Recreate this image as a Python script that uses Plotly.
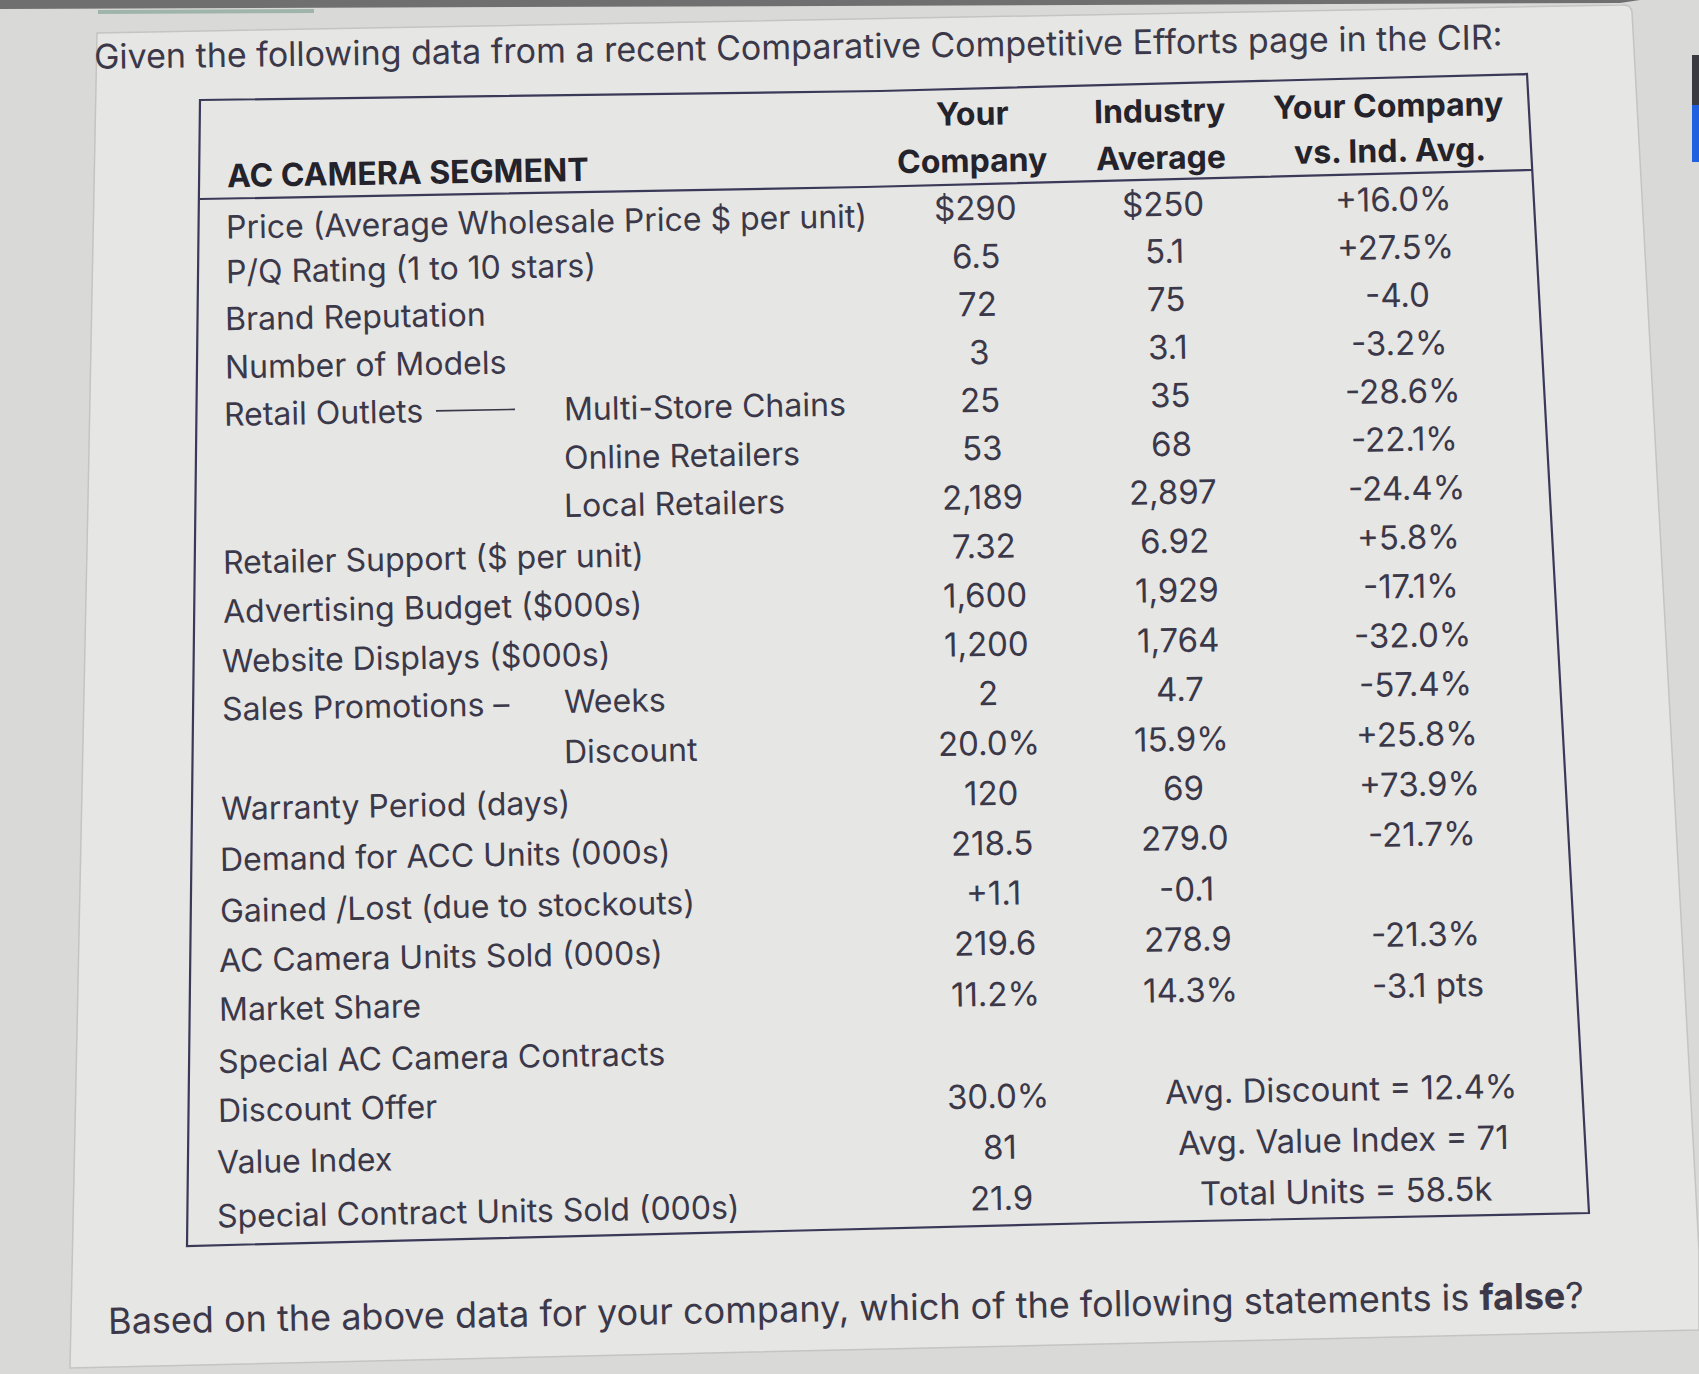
import plotly.graph_objects as go

W, H = 1699, 1374

# ---------------- data ----------------
title_text = "Given the following data from a recent Comparative Competitive Efforts page in the CIR:"
question_text = "Based on the above data for your company, which of the following statements is <b>false</b>?"

segment_header = "AC CAMERA SEGMENT"
col_header_your = ["Your", "Company"]
col_header_industry = ["Industry", "Average"]
col_header_vs = ["Your Company", "vs. Ind. Avg."]

row_labels = [
    "Price (Average Wholesale Price $ per unit)",
    "P/Q Rating (1 to 10 stars)",
    "Brand Reputation",
    "Number of Models",
    "Retail Outlets",
    "",
    "",
    "Retailer Support ($ per unit)",
    "Advertising Budget ($000s)",
    "Website Displays ($000s)",
    "Sales Promotions –",
    "",
    "Warranty Period (days)",
    "Demand for ACC Units (000s)",
    "Gained /Lost (due to stockouts)",
    "AC Camera Units Sold (000s)",
    "Market Share",
    "Special AC Camera Contracts",
    "Discount Offer",
    "Value Index",
    "Special Contract Units Sold (000s)",
]
sub_labels = ["", "", "", "", "Multi-Store Chains", "Online Retailers", "Local Retailers",
              "", "", "", "Weeks", "Discount", "", "", "", "", "", "", "", "", ""]
your_company = ["$290", "6.5", "72", "3", "25", "53", "2,189", "7.32", "1,600", "1,200", "2",
                "20.0%", "120", "218.5", "+1.1", "219.6", "11.2%", "", "30.0%", "81", "21.9"]
industry_avg = ["$250", "5.1", "75", "3.1", "35", "68", "2,897", "6.92", "1,929", "1,764", "4.7",
                "15.9%", "69", "279.0", "-0.1", "278.9", "14.3%", "", "", "", ""]
vs_industry = ["+16.0%", "+27.5%", "-4.0", "-3.2%", "-28.6%", "-22.1%", "-24.4%", "+5.8%", "-17.1%",
               "-32.0%", "-57.4%", "+25.8%", "+73.9%", "-21.7%", "", "-21.3%", "-3.1 pts", "", "", "", ""]
contract_notes = ["", "", "", "", "", "", "", "", "", "", "", "", "", "", "", "", "", "",
                  "Avg. Discount = 12.4%", "Avg. Value Index = 71", "Total Units = 58.5k"]

# ---------------- style / layout constants ----------------
FONT = "Inter"
TXT = "#3b3849"
HDR = "#24232b"
LINE = "#3a3958"
ANG = -1.0
FS_LABEL = 32
FS_NUM = 33


def row_y(r, y0):
    # rows recede slightly in the photo (perspective)
    return y0 + 47.57 * r + 0.0975 * r * r


annotations = []


def add(text, x, y, size=FS_LABEL, color=TXT, anchor="left", angle=ANG):
    if not text:
        return
    annotations.append(dict(
        text=text, x=x, y=y, xref="x", yref="y", showarrow=False,
        xanchor=anchor, yanchor="middle", textangle=angle,
        font=dict(family=FONT, size=size, color=color),
    ))


# columns: (values, x0, dx per row, y0, anchor, font size)
columns = [
    (row_labels, 224, -0.47, 221, "left", FS_LABEL),
    (sub_labels, 561, 0.1, 215, "left", FS_LABEL),
    (your_company, 975, 1.3, 208, "center", FS_NUM),
    (industry_avg, 1163, 1.69, 203.5, "center", FS_NUM),
    (vs_industry, 1393.5, 2.16, 199, "center", FS_NUM),
    (contract_notes, 1298, 2.4, 201, "center", FS_NUM),
]
for vals, x0, dx, y0, anc, fs in columns:
    for r, v in enumerate(vals):
        add(v, x0 + dx * r, row_y(r, y0), size=fs, anchor=anc)

# headers
add("<b>" + segment_header + "</b>", 225, 172, color=HDR)
add("<b>" + col_header_your[0] + "</b>", 972, 113, color=HDR, anchor="center")
add("<b>" + col_header_your[1] + "</b>", 972, 160, color=HDR, anchor="center")
add("<b>" + col_header_industry[0] + "</b>", 1159, 110, color=HDR, anchor="center")
add("<b>" + col_header_industry[1] + "</b>", 1161, 157, color=HDR, anchor="center")
add("<b>" + col_header_vs[0] + "</b>", 1388, 105, color=HDR, anchor="center")
add("<b>" + col_header_vs[1] + "</b>", 1390, 150, color=HDR, anchor="center")

# title and question
add(title_text, 798, 46, size=34, anchor="center", angle=-0.8)
add(question_text, 846, 1308, size=36, anchor="center", angle=-1.0)

# connector line after "Retail Outlets"
y_ro = row_y(4, 221)
shapes = [
    # top dark strip of the screen
    dict(type="path", path="M 0 0 L 1640 0 L 1620 3 L 0 9 Z",
         fillcolor="#6f6f6f", line=dict(width=0), layer="below"),
    dict(type="path", path="M 98 10 L 314 9 L 314 13 L 98 14 Z",
         fillcolor="#9fb5ab", line=dict(width=0), layer="below"),
    # page card
    dict(type="path",
         path="M 97 33 L 1622 5 Q 1631 4 1632 12 L 1699 1250 L 1699 1330 L 70 1368 L 88 500 Z",
         fillcolor="#e6e6e4", line=dict(color="#c4c4c2", width=1.5), layer="below"),
    # elements at right edge
    dict(type="path", path="M 1692 55 L 1699 55 L 1699 105 L 1692 105 Z",
         fillcolor="#3a3a40", line=dict(width=0), layer="below"),
    dict(type="path", path="M 1692 105 L 1699 105 L 1699 162 L 1692 162 Z",
         fillcolor="#1f5fe0", line=dict(width=0), layer="below"),
    # table frame
    dict(type="path",
         path="M 200 100 L 880 91 L 1527 74 L 1589 1213 L 1100 1223 L 187 1246 Z",
         line=dict(color=LINE, width=2.2), fillcolor="rgba(0,0,0,0)"),
    # header rule
    dict(type="path", path="M 200 199 L 865 187 L 1532 170",
         line=dict(color=LINE, width=2.2)),
    # retail outlets connector
    dict(type="line", x0=436, x1=515, y0=y_ro - 2, y1=y_ro - 3.5,
         line=dict(color=TXT, width=1.6)),
]

fig = go.Figure()
fig.add_trace(go.Scatter(x=[0, W], y=[0, H], mode="markers",
                         marker=dict(opacity=0), hoverinfo="skip", showlegend=False))
fig.update_layout(
    width=W, height=H,
    margin=dict(l=0, r=0, t=0, b=0),
    paper_bgcolor="#d9d9d7",
    plot_bgcolor="#d9d9d7",
    xaxis=dict(range=[0, W], visible=False, fixedrange=True),
    yaxis=dict(range=[H, 0], visible=False, fixedrange=True),
    annotations=annotations,
    shapes=shapes,
    showlegend=False,
)

fig.write_html("out.html",
               config={"displayModeBar": False},
               post_script="document.body.style.margin='0';document.body.style.overflow='hidden';")
